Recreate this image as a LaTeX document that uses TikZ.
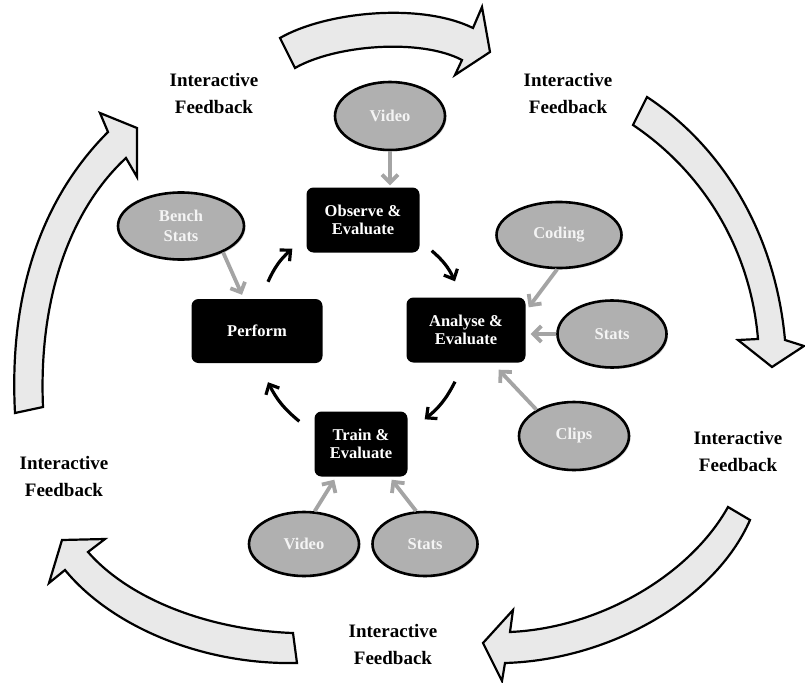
\documentclass[tikz,border=0pt]{standalone}
\usepackage{fontspec}
\setmainfont{Liberation Serif}
\usetikzlibrary{arrows.meta,calc,shadows,shapes.geometric}
\definecolor{ellgray}{HTML}{B0B0B0}
\definecolor{elltext}{HTML}{F4F4F4}
\definecolor{feedgray}{HTML}{A4A4A4}
\definecolor{bigfill}{HTML}{E9E9E9}
\begin{document}
\begin{tikzpicture}[x=1pt,y=-1pt,
  stagebox/.style={fill=black,text=white,rounded corners=7pt,font=\bfseries\fontsize{16.5}{18}\selectfont,align=center,inner sep=0pt},
  source/.style={ellipse,draw=black,line width=2.6pt,fill=ellgray,text=elltext,font=\bfseries\fontsize{16.5}{20}\selectfont,align=center,inner sep=0pt,drop shadow={shadow xshift=1.5pt,shadow yshift=-1.5pt,opacity=0.35}},
  feed/.style={line width=3.8pt,draw=feedgray,-{Straight Barb[length=8pt,width=16pt]}},
  flow/.style={line width=3.2pt,draw=black,-{Straight Barb[length=8pt,width=15pt]}},
  bigarrow/.style={draw=black,line width=2.2pt,fill=bigfill,line join=miter},
  fbtext/.style={font=\bfseries\fontsize{19}{27}\selectfont,align=center,inner sep=0pt}
]
\useasboundingbox (0,0) rectangle (805,682);

% big block arrows
\path[bigarrow] (280,38) .. controls (325,12) and (420,2) .. (473,28) -- (482,7) -- (490,52) -- (455,75) -- (462,60) .. controls (420,38) and (335,45) .. (295,68) -- cycle;
\path[bigarrow] (647,97) .. controls (720,145) and (775,230) .. (785,340) -- (804,346) -- (772,367) -- (738,340) -- (758,339) .. controls (750,245) and (700,170) .. (633,125) -- cycle;
\path[bigarrow] (728,507) .. controls (690,575) and (600,628) .. (510,632) -- (513,610) -- (483,643) -- (502,681) -- (505,663) .. controls (610,660) and (715,600) .. (750,520) -- cycle;
\path[bigarrow] (297,663) .. controls (200,665) and (110,625) .. (65,570) -- (49,583) -- (62,540) -- (105,539) -- (88,552) .. controls (130,600) and (210,630) .. (293,633) -- cycle;
\path[bigarrow] (15,413) .. controls (8,280) and (50,190) .. (108,132) -- (100,113) -- (137,128) -- (137,177) -- (126,158) .. controls (75,205) and (38,290) .. (43,407) -- cycle;

% feedback labels
\node[fbtext] (fb1) at (214,94) {Interactive\\Feedback};
\node[fbtext] (fb2) at (568,94) {Interactive\\Feedback};
\node[fbtext] (fb3) at (738,451) {Interactive\\Feedback};
\node[fbtext] (fb4) at (64,476) {Interactive\\Feedback};
\node[fbtext] (fb5) at (393,644) {Interactive\\Feedback};

% stages
\node[stagebox,minimum width=113pt,minimum height=65pt] (observe) at (363,220) {Observe \&\\Evaluate};
\node[stagebox,minimum width=131pt,minimum height=64pt] (perform) at (257,331) {Perform};
\node[stagebox,minimum width=119pt,minimum height=65pt] (analyse) at (466,330) {Analyse \&\\Evaluate};
\node[stagebox,minimum width=93pt,minimum height=65pt] (train) at (361,444) {Train \&\\Evaluate};

% sources
\node[source,minimum width=110pt,minimum height=68pt] (video1) at (390,116) {Video};
\node[source,minimum width=126pt,minimum height=67pt] (bench) at (181,226) {Bench\\Stats};
\node[source,minimum width=125pt,minimum height=66pt] (coding) at (559,235) {Coding};
\node[source,minimum width=109pt,minimum height=67pt] (stats1) at (612,334) {Stats};
\node[source,minimum width=110pt,minimum height=68pt] (clips) at (574,436) {Clips};
\node[source,minimum width=110pt,minimum height=64pt] (video2) at (304,544) {Video};
\node[source,minimum width=105pt,minimum height=64pt] (stats2) at (425,544) {Stats};

% grey input arrows
\draw[feed] (video1.south) -- ($(video1.south |- observe.north)+(0,-2)$);
\draw[feed] (bench.-32) -- ($(perform.north)+(-15,-4)$);
\draw[feed] (coding.-93) -- ($(analyse.north east)+(3,10)$);
\draw[feed] (stats1.west) -- ($(stats1.west -| analyse.east)+(5,0)$);
\draw[feed] (clips.145) -- ($(analyse.south east)+(-27,7)$);
\draw[feed] (video2.72) -- ($(train.south west)+(20,3)$);
\draw[feed] (stats2.105) -- ($(train.south east)+(-16,3)$);

% black cycle arrows
\draw[flow] ($(perform.north)+(11,-17)$) to[bend left=12] ($(observe.south west)+(-14,-4)$);
\draw[flow] ($(observe.south east)+(12,-2)$) to[bend left=12] ($(analyse.north)+(-11,-16)$);
\draw[flow] ($(analyse.south)+(-11,19)$) to[bend left=12] ($(train.north east)+(17,8)$);
\draw[flow] ($(train.north west)+(-15,10)$) to[bend left=12] ($(perform.south)+(11,19)$);
\end{tikzpicture}
\end{document}
